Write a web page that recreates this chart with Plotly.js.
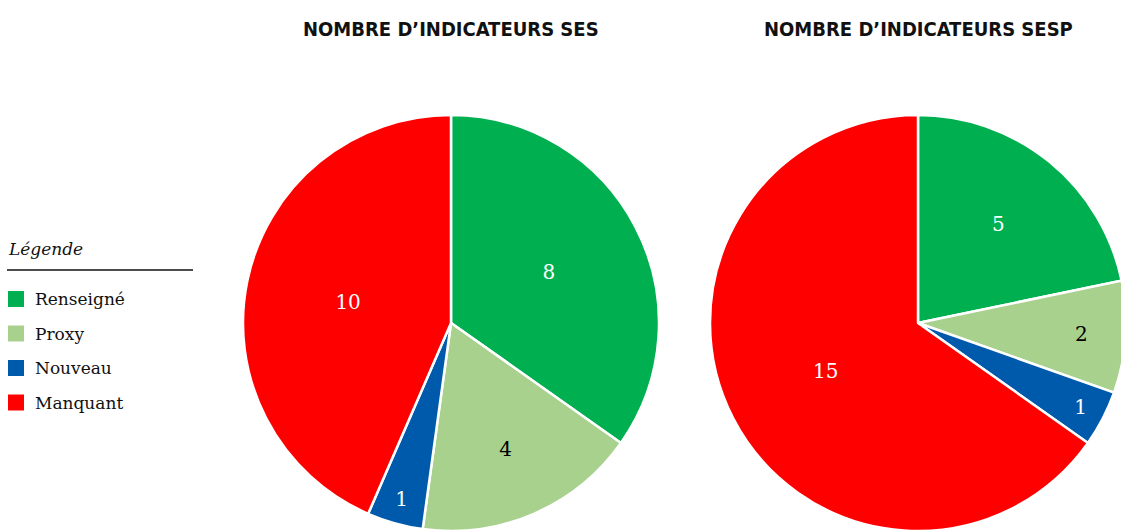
<!DOCTYPE html>
<html>
<head>
<meta charset="utf-8">
<script src="https://cdn.plot.ly/plotly-3.0.1.min.js"></script>
<style>
html,body{margin:0;padding:0;overflow:hidden;background:#fff;}
#chart{width:1130px;height:540px;}
</style>
</head>
<body>
<div id="chart"></div>
<script>
// Data
const categories = ["Renseigné", "Proxy", "Nouveau", "Manquant"];
const colors = ["#00b050", "#a9d18e", "#005aab", "#ff0000"];
const textColors = ["#ffffff", "#000000", "#ffffff", "#ffffff"];
const valuesSES = [8, 4, 1, 10];
const valuesSESP = [5, 2, 1, 15];
const chartTitles = ["NOMBRE D\u2019INDICATEURS SES", "NOMBRE D\u2019INDICATEURS SESP"];
const legendTitle = "Légende";

const W = 1130, H = 540;
const px = x => x / W;
const py = y => 1 - y / H;

const serif = "DejaVu Serif, Liberation Serif, serif";
const condensed = "DejaVu Sans Condensed, DejaVu Sans, sans-serif";

function pieTrace(values, domX) {
  return {
    type: "pie",
    labels: categories,
    values: values,
    sort: false,
    direction: "clockwise",
    rotation: 0,
    marker: {colors: colors, line: {color: "#ffffff", width: 2.5}},
    textinfo: "value",
    textposition: "inside",
    insidetextorientation: "horizontal",
    textfont: {family: serif, size: 20, color: textColors},
    hoverinfo: "label+value",
    showlegend: false,
    domain: {x: domX, y: [py(531), py(115)]}
  };
}

const data = [
  pieTrace(valuesSES, [px(243), px(659)]),
  pieTrace(valuesSESP, [px(710), px(1126)])
];

const titleFont = {family: condensed, size: 20, weight: "bold", stretch: "condensed", color: "#111"};
const annotations = [
  {text: chartTitles[0], x: px(451), y: py(29), xref: "paper", yref: "paper", showarrow: false,
   xanchor: "center", yanchor: "middle", font: titleFont},
  {text: chartTitles[1], x: px(918), y: py(29), xref: "paper", yref: "paper", showarrow: false,
   xanchor: "center", yanchor: "middle", font: titleFont},
  {text: legendTitle, x: px(6), y: py(249), xref: "paper", yref: "paper", showarrow: false,
   xanchor: "left", yanchor: "middle", font: {family: serif, size: 17, style: "italic", color: "#111"}}
];
const shapes = [
  {type: "line", xref: "paper", yref: "paper", x0: px(7), x1: px(193), y0: py(270), y1: py(270),
   line: {color: "#111", width: 1.5}}
];
categories.forEach((c, i) => {
  const cy = 299 + i * 34.5;
  shapes.push({type: "rect", xref: "paper", yref: "paper", x0: px(8), x1: px(24), y0: py(cy - 8), y1: py(cy + 8),
    fillcolor: colors[i], line: {width: 0}});
  annotations.push({text: c, x: px(33), y: py(cy), xref: "paper", yref: "paper", showarrow: false,
    xanchor: "left", yanchor: "middle", font: {family: serif, size: 17, color: "#111"}});
});

const layout = {
  width: W, height: H,
  margin: {l: 0, r: 0, t: 0, b: 0},
  paper_bgcolor: "#ffffff",
  showlegend: false,
  annotations: annotations,
  shapes: shapes
};

Plotly.newPlot("chart", data, layout, {displayModeBar: false, staticPlot: true});
</script>
</body>
</html>
